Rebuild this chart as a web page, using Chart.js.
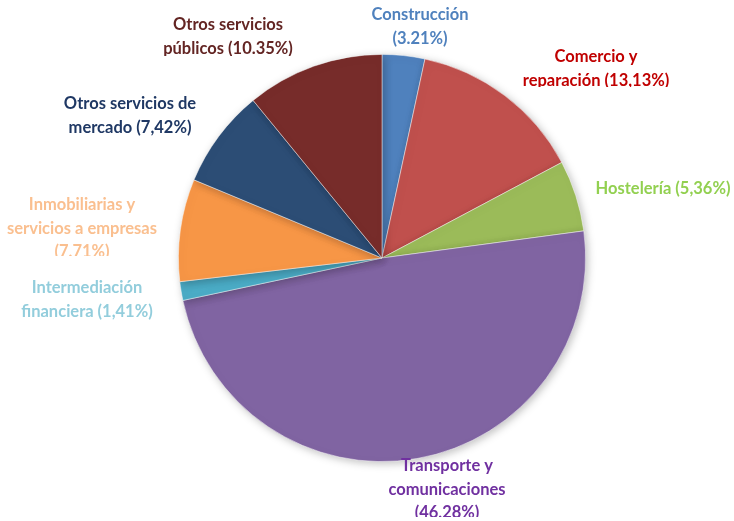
<!DOCTYPE html>
<html>
<head>
<meta charset="utf-8">
<script src="https://cdn.jsdelivr.net/npm/chart.js@4/dist/chart.umd.min.js"></script>
<style>
  html, body { margin: 0; padding: 0; background: #fff; }
  #wrap { width: 734px; height: 521px; }
</style>
</head>
<body>
<div id="wrap"><canvas id="pie-chart"></canvas></div>
<script>
// Sectors, clockwise from 12 o'clock
const sectors = ['Construcción', 'Comercio y reparación', 'Hostelería', 'Transporte y comunicaciones',
    'Intermediación financiera', 'Inmobiliarias y servicios a empresas', 'Otros servicios de mercado',
    'Otros servicios públicos'];
const shares = [3.21, 13.13, 5.36, 46.28, 1.41, 7.71, 7.42, 10.35];
// label text as printed on the chart (original mixes comma and dot)
const labelLines = [
    ['Construcción', '(3.21%)'],
    ['Comercio y', 'reparación (13,13%)'],
    ['Hostelería (5,36%)'],
    ['Transporte y', 'comunicaciones', '(46,28%)'],
    ['Intermediación', 'financiera (1,41%)'],
    ['Inmobiliarias y', 'servicios a empresas', '(7,71%)'],
    ['Otros servicios de', 'mercado (7,42%)'],
    ['Otros servicios', 'públicos (10.35%)']
];

const sliceColors = ['#4F81BD', '#C0504D', '#9BBB59', '#8064A2', '#4BACC6', '#F79646', '#2C4D75', '#772C2A'];
const textColors = ['#4F81BD', '#C00000', '#92D050', '#7030A0', '#92CDDC', '#FABF8F', '#1F3864', '#632523'];
// label layout: centre x, first line y, bottom clip
const labelPos = [
    { x: 420, y: 15, clip: 47 },
    { x: 596, y: 57, clip: 87 },
    { x: 663, y: 189, clip: 210 },
    { x: 447, y: 466, clip: 517 },
    { x: 87, y: 288, clip: 330 },
    { x: 82, y: 205, clip: 256 },
    { x: 130, y: 104, clip: 140 },
    { x: 228, y: 25, clip: 56 }
];

const labelPlugin = {
    id: 'sliceLabels',
    afterDraw(chart) {
        const ctx = chart.ctx;
        ctx.save();
        ctx.font = 'bold 16.5px Lato, "Open Sans", sans-serif';
        ctx.textAlign = 'center';
        ctx.textBaseline = 'middle';
        labelLines.forEach((lines, i) => {
            const p = labelPos[i];
            ctx.save();
            ctx.beginPath();
            ctx.rect(0, 0, chart.width, p.clip);
            ctx.clip();
            ctx.fillStyle = textColors[i];
            lines.forEach((t, j) => ctx.fillText(t, p.x, p.y + j * 23.5));
            ctx.restore();
        });
        ctx.restore();
    }
};

const shadowPlugin = {
    id: 'pieShadow',
    beforeDatasetsDraw(chart) {
        const ctx = chart.ctx;
        ctx.save();
        ctx.shadowColor = 'rgba(0,0,0,0.25)';
        ctx.shadowBlur = 8;
        ctx.shadowOffsetX = 2;
        ctx.shadowOffsetY = 2;
    },
    afterDatasetsDraw(chart) {
        chart.ctx.restore();
    }
};

const ctx = document.getElementById('pie-chart').getContext('2d');
const pieChart = new Chart(ctx, {
    type: 'pie',
    data: {
        labels: sectors,
        datasets: [{
            data: shares,
            backgroundColor: sliceColors,
            borderColor: 'rgba(255,255,255,0.6)',
            borderWidth: 0.8
        }]
    },
    options: {
        responsive: true,
        maintainAspectRatio: false,
        animation: false,
        layout: { padding: { left: 178, right: 148, top: 54, bottom: 59 } },
        plugins: {
            legend: { display: false },
            tooltip: { enabled: false }
        }
    },
    plugins: [shadowPlugin, labelPlugin]
});
</script>
</body>
</html>
